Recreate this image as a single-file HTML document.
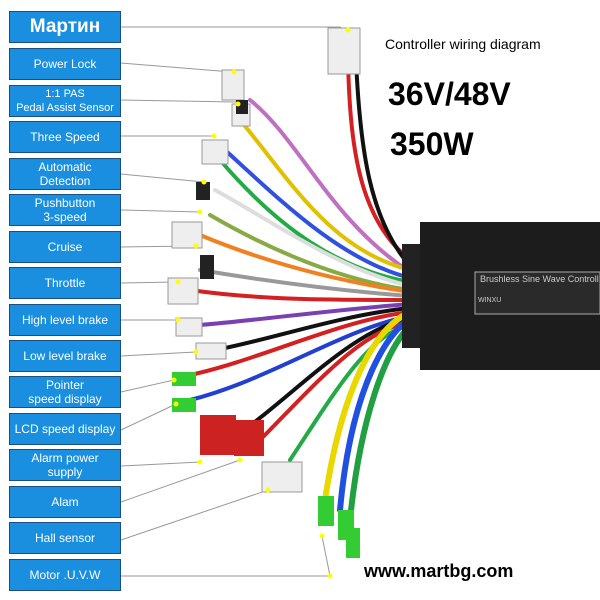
<!DOCTYPE html>
<html><head><meta charset="utf-8"><style>
body{margin:0;width:600px;height:600px;background:#fff;overflow:hidden;position:relative;font-family:"Liberation Sans",sans-serif}
.b{position:absolute;left:9px;width:112px;background:#1a8fe0;border:1px solid #1a4f80;color:#fff;font-size:12px;line-height:14px;text-align:center;display:flex;align-items:center;justify-content:center;box-sizing:border-box}
svg{position:absolute;left:0;top:0}
.t{position:absolute;font-family:"Liberation Sans",sans-serif;color:#000}
</style></head><body>
<svg width="600" height="600">
<g stroke="#999" stroke-width="1" fill="none">
<polyline points="121,27 340,27 348,32"/>
<line x1="121" y1="63" x2="232" y2="72"/>
<line x1="121" y1="100" x2="236" y2="102"/>
<line x1="121" y1="136" x2="212" y2="136"/>
<line x1="121" y1="174" x2="204" y2="182"/>
<line x1="121" y1="210" x2="200" y2="212"/>
<line x1="121" y1="247" x2="196" y2="246"/>
<line x1="121" y1="283" x2="178" y2="282"/>
<line x1="121" y1="320" x2="178" y2="320"/>
<line x1="121" y1="356" x2="196" y2="352"/>
<line x1="121" y1="392" x2="174" y2="380"/>
<line x1="121" y1="430" x2="176" y2="404"/>
<line x1="121" y1="466" x2="200" y2="462"/>
<line x1="121" y1="502" x2="240" y2="460"/>
<line x1="121" y1="540" x2="268" y2="490"/>
<line x1="121" y1="576" x2="330" y2="576"/>
<line x1="330" y1="576" x2="322" y2="536"/>
</g>
<g fill="none" stroke-width="4" stroke-linecap="round">
<path d="M348,60 C350,150 360,220 410,260" stroke="#d42020"/>
<path d="M356,60 C360,150 370,220 410,266" stroke="#111"/>
<path d="M250,100 C300,140 330,220 410,272" stroke="#c070c0"/>
<path d="M240,120 C290,180 330,250 410,270" stroke="#e0c000"/>
<path d="M225,150 C280,200 340,260 410,278" stroke="#3050e0"/>
<path d="M220,160 C280,230 340,270 410,282" stroke="#22aa44"/>
<path d="M215,190 C270,220 340,270 410,286" style="stroke:#ddd"/>
<path d="M210,215 C270,250 340,280 410,290" stroke="#8a4"/>
<path d="M200,235 C260,260 330,280 410,292" stroke="#f08020"/>
<path d="M200,270 C260,280 330,290 410,296" stroke="#999"/>
<path d="M190,290 C260,300 330,300 410,300" stroke="#d42020"/>
<path d="M200,325 C260,320 330,310 410,304" stroke="#7a3fb0"/>
<path d="M215,350 C270,340 340,315 410,308" stroke="#111"/>
<path d="M190,375 C260,360 340,320 410,312" stroke="#d42020"/>
<path d="M190,400 C270,380 340,330 410,316" stroke="#2040d0"/>
<path d="M230,440 C290,400 350,330 410,318" stroke="#111"/>
<path d="M260,440 C310,390 360,330 410,322" stroke="#d42020"/>
<path d="M290,460 C330,400 370,330 410,326" stroke="#22aa44"/>
<path d="M325,500 C340,400 370,330 410,312" stroke="#e8d800" stroke-width="6"/>
<path d="M340,510 C350,400 380,340 410,318" stroke="#2050e0" stroke-width="6"/>
<path d="M350,520 C360,420 385,350 410,326" stroke="#20a040" stroke-width="6"/>
</g>
<rect x="402" y="244" width="40" height="104" fill="#222"/>
<rect x="420" y="222" width="180" height="148" fill="#1c1c1c"/>
<rect x="475" y="272" width="125" height="42" fill="#2a2a2a" stroke="#aaa" stroke-width="1"/>
<text x="480" y="282" font-size="9" fill="#ccc" font-family="Liberation Sans">Brushless Sine Wave Controll</text>
<text x="478" y="302" font-size="7" fill="#ccc" font-family="Liberation Sans">WINXU</text>
<g fill="#eee" stroke="#999">
<rect x="328" y="28" width="32" height="46"/>
<rect x="222" y="70" width="22" height="30"/>
<rect x="232" y="104" width="18" height="22"/>
<rect x="202" y="140" width="26" height="24"/>
<rect x="172" y="222" width="30" height="26"/>
<rect x="168" y="278" width="30" height="26"/>
<rect x="176" y="318" width="26" height="18"/>
<rect x="196" y="343" width="30" height="16"/>
<rect x="262" y="462" width="40" height="30"/>
</g>
<g fill="#222"><rect x="196" y="182" width="14" height="18"/><rect x="200" y="255" width="14" height="24"/><rect x="236" y="100" width="12" height="14"/></g>
<g fill="#3c3"><rect x="172" y="372" width="24" height="14"/><rect x="172" y="398" width="24" height="14"/><rect x="318" y="496" width="16" height="30"/><rect x="338" y="510" width="16" height="30"/><rect x="346" y="528" width="14" height="30"/></g>
<g fill="#c22"><rect x="200" y="415" width="36" height="40"/><rect x="234" y="420" width="30" height="36"/></g>
<g fill="#ff0">
<circle cx="348" cy="30" r="2.5"/><circle cx="234" cy="72" r="2.5"/><circle cx="238" cy="104" r="2.5"/><circle cx="214" cy="136" r="2.5"/><circle cx="204" cy="182" r="2.5"/><circle cx="200" cy="212" r="2.5"/><circle cx="196" cy="246" r="2.5"/><circle cx="178" cy="282" r="2.5"/><circle cx="178" cy="320" r="2.5"/><circle cx="196" cy="352" r="2.5"/><circle cx="174" cy="380" r="2.5"/><circle cx="176" cy="404" r="2.5"/><circle cx="200" cy="462" r="2.5"/><circle cx="240" cy="460" r="2.5"/><circle cx="268" cy="490" r="2.5"/><circle cx="322" cy="536" r="2.5"/><circle cx="330" cy="576" r="2.5"/>
</g>
</svg>
<div class="b" style="top:11px;height:32px;font-size:19px;font-weight:bold">Мартин</div>
<div class="b" style="top:48px;height:32px">Power Lock</div>
<div class="b" style="top:85px;height:32px;font-size:11px">1:1 PAS<br>Pedal Assist Sensor</div>
<div class="b" style="top:121px;height:32px">Three Speed</div>
<div class="b" style="top:158px;height:32px">Automatic<br>Detection</div>
<div class="b" style="top:194px;height:32px">Pushbutton<br>3-speed</div>
<div class="b" style="top:231px;height:32px">Cruise</div>
<div class="b" style="top:267px;height:32px">Throttle</div>
<div class="b" style="top:304px;height:32px">High level brake</div>
<div class="b" style="top:340px;height:32px">Low level brake</div>
<div class="b" style="top:376px;height:32px">Pointer<br>speed display</div>
<div class="b" style="top:413px;height:32px">LCD speed display</div>
<div class="b" style="top:449px;height:32px">Alarm power<br>supply</div>
<div class="b" style="top:486px;height:32px">Alam</div>
<div class="b" style="top:522px;height:32px">Hall sensor</div>
<div class="b" style="top:559px;height:32px">Motor .U.V.W</div>
<div class="t" style="left:385px;top:36px;font-size:14px">Controller wiring diagram</div>
<div class="t" style="left:388px;top:76px;font-size:32px;font-weight:bold">36V/48V</div>
<div class="t" style="left:390px;top:126px;font-size:32px;font-weight:bold">350W</div>
<div class="t" style="left:364px;top:561px;font-size:18px;font-weight:bold">www.martbg.com</div>
</body></html>
